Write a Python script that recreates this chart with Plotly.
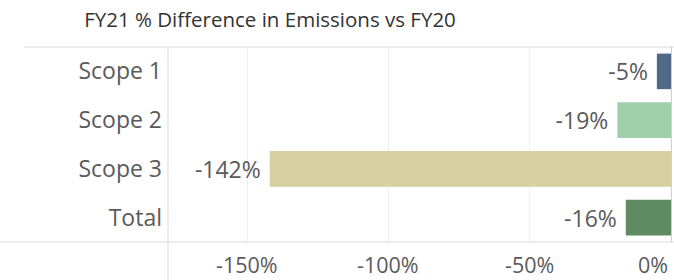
import plotly.graph_objects as go

categories = ["Scope 1", "Scope 2", "Scope 3", "Total"]
values = [-5, -19, -142, -16]
labels = ["-5%", "-19%", "-142%", "-16%"]
colors = ["#4f6a86", "#a0d0aa", "#d7d0a0", "#5f8a62"]
tick_vals = [-150, -100, -50, 0]
tick_text = ["-150%", "-100%", "-50%", "0%"]

W, H = 674, 280
L, R, T, B = 168, 3, 47, 38
PW, PH = W - L - R, H - T - B
FONT = "Open Sans"
GREY = "#5a5a5a"

fig = go.Figure()
fig.add_trace(go.Bar(
    y=categories, x=values, orientation="h",
    marker=dict(color=colors, line=dict(width=0)),
    text=[t + "\u00a0" for t in labels], textposition="outside",
    textfont=dict(family=FONT, size=23, color=GREY),
    cliponaxis=False, width=0.73,
))

fig.update_layout(
    width=W, height=H,
    margin=dict(l=L, r=R, t=T, b=B, autoexpand=False),
    paper_bgcolor="white", plot_bgcolor="white",
    showlegend=False,
    title=dict(text="FY21 % Difference in Emissions vs FY20",
               x=270 / W, xanchor="center", y=1 - 20 / H, yanchor="middle",
               font=dict(family=FONT, size=20.5, color="#333333")),
    xaxis=dict(range=[-178, 0], tickvals=tick_vals, showticklabels=False,
               showgrid=True, gridcolor="#efefef", gridwidth=1,
               zeroline=True, zerolinecolor="#cfcfcf", zerolinewidth=1,
               showline=False, fixedrange=True),
    yaxis=dict(autorange="reversed", showgrid=False, zeroline=False,
               ticks="", ticklabelstandoff=5, showline=False,
               tickfont=dict(family=FONT, size=23, color=GREY)),
)

for v, t in zip(tick_vals, tick_text):
    fig.add_annotation(x=v, xref="x", y=-(264 - (H - B)) / PH, yref="paper",
                       text=t, showarrow=False, borderpad=0,
                       xanchor="right" if v == 0 else "center",
                       xshift=-2 if v == 0 else 0,
                       yanchor="middle",
                       font=dict(family=FONT, size=21.5, color=GREY))

line_col = "#d9d9d9"
# top line
fig.add_shape(type="line", xref="paper", yref="paper",
              x0=-(L - 24) / PW, x1=1 + R / PW, y0=1, y1=1,
              line=dict(color=line_col, width=1))
# bottom line
fig.add_shape(type="line", xref="paper", yref="paper",
              x0=-L / PW, x1=1 + R / PW, y0=0, y1=0,
              line=dict(color=line_col, width=1))
# left vertical line
fig.add_shape(type="line", xref="paper", yref="paper",
              x0=0, x1=0, y0=-B / PH, y1=1,
              line=dict(color=line_col, width=1))

fig.write_html("out.html", config={"displayModeBar": False},
               post_script="document.body.style.margin='0';document.body.style.overflow='hidden';")
